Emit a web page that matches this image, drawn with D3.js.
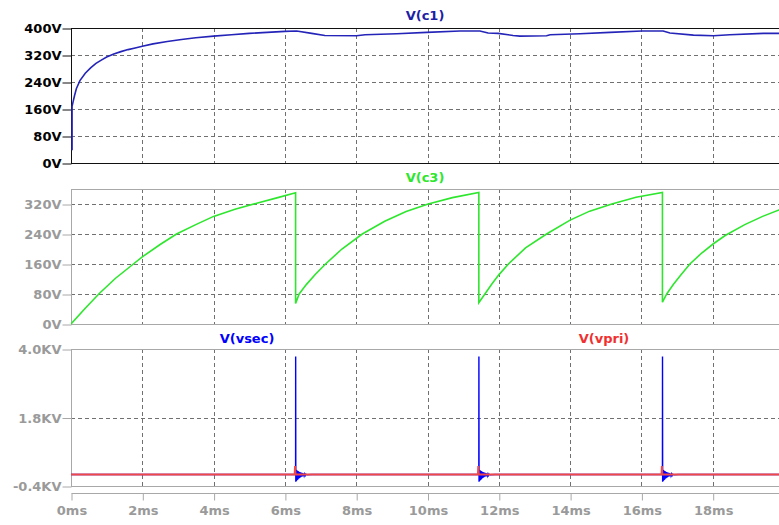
<!DOCTYPE html>
<html>
<head>
<meta charset="utf-8">
<script src="https://cdn.jsdelivr.net/npm/d3@7"></script>
<style>
  html, body { margin: 0; padding: 0; background: #fff; }
  svg { display: block; }
  text { font-family: "DejaVu Sans", sans-serif; font-weight: bold; }
</style>
</head>
<body>
<script>
// ---------------- data (time in ms) ----------------
const xTicks = [0, 2, 4, 6, 8, 10, 12, 14, 16, 18];
const xTickLabels = ["0ms", "2ms", "4ms", "6ms", "8ms", "10ms", "12ms", "14ms", "16ms", "18ms"];

const c1Ticks = [0, 80, 160, 240, 320, 400];
const c1TickLabels = ["0V", "80V", "160V", "240V", "320V", "400V"];
const c3Ticks = [0, 80, 160, 240, 320];
const c3TickLabels = ["0V", "80V", "160V", "240V", "320V"];
const vTicks = [-0.4, 1.8, 4.0];
const vTickLabels = ["-0.4KV", "1.8KV", "4.0KV"];

// V(c1)
const c1Time = [0.03, 0.03, 0.06, 0.1, 0.15, 0.25, 0.4, 0.55, 0.7, 0.85, 1.0, 1.2, 1.4, 1.6, 1.8, 2.0, 2.3, 2.7,
  3.1, 3.5, 4.0, 4.5, 5.0, 5.5, 6.0, 6.33,
  6.75, 7.12, 8.01, 8.25, 9.14, 9.98, 10.91, 11.47, 11.7, 11.98, 12.4, 12.59, 13.34, 13.44, 14.28, 15.12,
  16.01, 16.61, 16.8, 17.46, 18.02, 18.48, 19.42, 20.0];
const c1Volts = [38, 168, 182, 200, 220, 244, 266, 282, 295, 305, 314, 323, 330, 336, 341, 346, 353, 360,
  366, 371, 376, 380, 384, 387, 390, 391,
  384, 378, 377, 380, 383, 387, 391, 391, 385, 384, 378, 376, 377, 380, 383, 387,
  391, 391, 385, 379, 377, 380, 384, 384];

// V(c3)
const c3Time = [0, 0.4, 0.8, 1.25, 1.75, 2.0, 2.5, 2.96, 3.5, 4.0, 4.6, 5.21, 5.8, 6.30,
  6.30, 6.40, 6.60, 6.85, 7.14, 7.60, 8.17, 8.80, 9.40, 10.02, 10.70, 11.44,
  11.44, 11.61, 11.80, 12.00, 12.27, 12.75, 13.34, 14.00, 14.55, 15.17, 15.85, 16.59,
  16.59, 16.71, 16.90, 17.10, 17.36, 17.70, 18.02, 18.35, 18.90, 19.40, 19.86, 20.0];
const c3Volts = [0, 42, 82, 122, 160, 179, 212, 240, 265, 287, 306, 322, 337, 350,
  55, 80, 105, 132, 160, 200, 240, 274, 300, 320, 337, 351,
  57, 80, 106, 131, 160, 203, 240, 277, 301, 320, 338, 351,
  58, 80, 106, 130, 160, 190, 214, 236, 265, 287, 304, 308];

// V(vsec) and V(vpri), kV : ringing around each switching event
const spikeTimes = [6.30, 11.44, 16.59];
const ringOffsets = [-0.02, 0, 0.002, 0.006, 0.012, 0.018, 0.024, 0.030, 0.036, 0.042, 0.048, 0.054, 0.060,
  0.068, 0.076, 0.084, 0.092, 0.100, 0.110, 0.120, 0.130, 0.140, 0.150, 0.162, 0.174, 0.186, 0.198,
  0.212, 0.226, 0.240, 0.256, 0.272, 0.29, 0.32, 0.46];
const ringKV = [-0.03, -0.03, 3.76, -0.26, 0.12, -0.24, 0.11, -0.22, 0.10, -0.21, 0.09, -0.20, 0.08,
  -0.18, 0.07, -0.16, 0.06, -0.15, 0.05, -0.13, 0.04, -0.12, 0.03, -0.10, 0.02, -0.09, 0.01,
  -0.08, 0.0, -0.07, -0.01, -0.06, -0.02, -0.04, -0.03];
const vpriBase = -0.03;
const vpriOffsets = [-0.01, 0, 0.012];
const vpriKV = [-0.03, 0.24, -0.03];

// ---------------- drawing ----------------
const W = 779, H = 525;
const svg = d3.select("body").append("svg").attr("width", W).attr("height", H);
svg.append("defs").append("clipPath").attr("id", "clip")
  .append("rect").attr("x", 71).attr("y", 0).attr("width", W - 71).attr("height", H);

const x = d3.scaleLinear().domain([0, 20]).range([71, 784]);
const GRID = "#707070", GRAYTXT = "#9a9a9a", GRAYFRAME = "#a8a8a8";

const panels = [
  { top: 28, bottom: 163, dom: [0, 400], ticks: c1Ticks, labels: c1TickLabels, frame: "#111", txt: "#000" },
  { top: 189, bottom: 324, dom: [0, 360], ticks: c3Ticks, labels: c3TickLabels, frame: GRAYFRAME, txt: GRAYTXT },
  { top: 349, bottom: 486, dom: [-0.4, 4.0], ticks: vTicks, labels: vTickLabels, frame: GRAYFRAME, txt: GRAYTXT }
];
panels.forEach(p => { p.y = d3.scaleLinear().domain(p.dom).range([p.bottom, p.top]); });

panels.forEach(p => {
  const g = svg.append("g");
  g.selectAll(".vg").data(xTicks.filter(t => t > 0)).join("line")
    .attr("x1", d => Math.round(x(d)) + 0.5).attr("x2", d => Math.round(x(d)) + 0.5)
    .attr("y1", p.top).attr("y2", p.bottom)
    .attr("stroke", GRID).attr("stroke-dasharray", "4,3");
  g.selectAll(".hg").data(p.ticks.filter(t => t > p.dom[0] && t < p.dom[1])).join("line")
    .attr("x1", 71).attr("x2", W)
    .attr("y1", d => Math.round(p.y(d)) + 0.5).attr("y2", d => Math.round(p.y(d)) + 0.5)
    .attr("stroke", GRID).attr("stroke-dasharray", "4,3");
  g.append("line").attr("x1", 71).attr("x2", W).attr("y1", p.top + 0.5).attr("y2", p.top + 0.5).attr("stroke", p.frame);
  g.append("line").attr("x1", 71).attr("x2", W).attr("y1", p.bottom + 0.5).attr("y2", p.bottom + 0.5).attr("stroke", p.frame);
  g.append("line").attr("x1", 71.5).attr("x2", 71.5).attr("y1", p.top).attr("y2", p.bottom + 1).attr("stroke", p.frame);
  const axis = d3.axisLeft(p.y).tickValues(p.ticks).tickSize(9).tickPadding(1)
    .tickFormat((d, i) => p.labels[i]);
  const ag = svg.append("g").attr("transform", "translate(71.5,0.5)").call(axis);
  ag.select(".domain").remove();
  ag.selectAll("line").attr("stroke", p.frame);
  ag.selectAll("text").attr("fill", p.txt).style("font-size", "13px")
    .style("font-family", "'DejaVu Sans', sans-serif").style("font-weight", "bold");
});

// bottom x axis
const xa = d3.axisBottom(x).tickValues(xTicks).tickSize(7).tickPadding(5)
  .tickFormat((d, i) => xTickLabels[i]);
const xg = svg.append("g").attr("transform", "translate(0.5,493.5)").call(xa);
xg.select(".domain").attr("d", `M71,0H${W}`).attr("stroke", GRAYFRAME);
xg.selectAll("line").attr("stroke", GRAYFRAME);
xg.selectAll("text").attr("fill", GRAYTXT).style("font-size", "13px")
  .style("font-family", "'DejaVu Sans', sans-serif").style("font-weight", "bold");

// traces
const plot = svg.append("g").attr("clip-path", "url(#clip)");
const c1Line = d3.line().x(d => x(d[0])).y(d => panels[0].y(d[1]));
plot.append("path").datum(c1Time.map((t, i) => [t, c1Volts[i]]))
  .attr("d", c1Line).attr("fill", "none").attr("stroke", "#2424b8").attr("stroke-width", 1.6);

const c3Line = d3.line().x(d => x(d[0])).y(d => panels[1].y(d[1]));
plot.append("path").datum(c3Time.map((t, i) => [t, c3Volts[i]]))
  .attr("d", c3Line).attr("fill", "none").attr("stroke", "#2ee62e").attr("stroke-width", 1.6);

const vLine = d3.line().x(d => x(d[0])).y(d => panels[2].y(d[1]));
const vpri = [[0, vpriBase]];
spikeTimes.forEach(t0 => vpriOffsets.forEach((o, i) => vpri.push([t0 + o - 0.015, vpriKV[i]])));
vpri.push([20, vpriBase]);
const vsec = [[0, -0.03]];
spikeTimes.forEach(t0 => ringOffsets.forEach((o, i) => vsec.push([t0 + o, ringKV[i]])));
vsec.push([20, -0.03]);
plot.append("path").datum(vsec).attr("d", vLine).attr("fill", "none")
  .attr("stroke", "#0000ff").attr("stroke-width", 1.4);
plot.append("path").datum(vpri).attr("d", vLine).attr("fill", "none")
  .attr("stroke", "#f04848").attr("stroke-width", 2);

// titles
const titles = [
  { t: "V(c1)", x: 425, y: 20, c: "#1e1ea6" },
  { t: "V(c3)", x: 425, y: 182, c: "#2ee62e" },
  { t: "V(vsec)", x: 247, y: 343, c: "#0000ff" },
  { t: "V(vpri)", x: 604, y: 343, c: "#f03030" }
];
svg.selectAll(".title").data(titles).join("text")
  .attr("x", d => d.x).attr("y", d => d.y).attr("text-anchor", "middle")
  .attr("fill", d => d.c).style("font-size", "13px").text(d => d.t);
</script>
</body>
</html>
